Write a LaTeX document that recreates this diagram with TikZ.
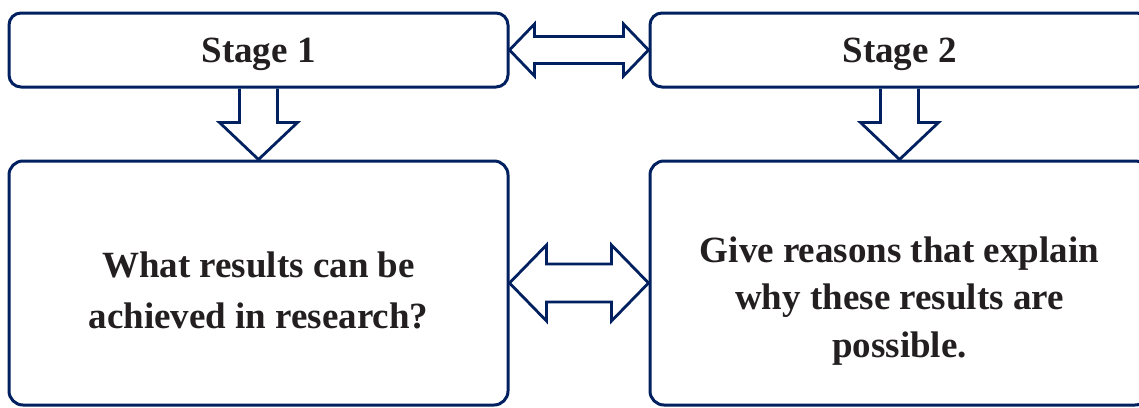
\documentclass[tikz,border=0pt]{standalone}
\usepackage{fontspec}
\setmainfont{Liberation Serif}
\usetikzlibrary{calc}

\definecolor{navy}{RGB}{0,32,96}
\definecolor{inkgray}{HTML}{231F20}

\begin{document}
\begin{tikzpicture}[x=0.5pt, y=-0.5pt,
    stagebox/.style={draw=navy, line width=1.5pt, rounded corners=6pt,
        minimum width=249.5pt, minimum height=37pt, inner sep=0pt,
        text=inkgray, text depth=0pt, font=\fontsize{18.5}{22}\selectfont\bfseries},
    bigbox/.style={draw=navy, line width=1.5pt, rounded corners=7pt,
        minimum width=249.5pt, minimum height=122pt, inner sep=0pt},
    boxtext/.style={align=center, inner sep=0pt, text=inkgray,
        font=\fontsize{18.5}{#1}\selectfont\bfseries},
    blockarrow/.style={draw=navy, line width=1.4pt, line join=miter}]

    % page size (the right column is cut at the edge)
    \useasboundingbox (0,0) rectangle (1139,407);
    \clip (0,0) rectangle (1139,407);

    % stages
    \node[stagebox] (s1) at (258.5,50) {Stage 1};
    \node[stagebox] (s2) at (899.5,50) {Stage 2};

    % lower boxes
    \node[bigbox] (b1) at (258.5,283) {};
    \node[bigbox] (b2) at (899.5,283) {};

    \node[boxtext=25.5pt] (t1) at ($(b1.center)+(0,7)$) {What results can be\\achieved in research?};
    \node[boxtext=23.75pt] (t2) at ($(b2.center)+(0,18)$) {Give reasons that explain\\why these results are\\possible.};

    % double arrow between the stages
    \draw[blockarrow] (s1.east) -- ++(25,-26) -- ++(0,12.5) -- ($(s2.west)+(-25,-13.5)$) -- ++(0,-12.5)
        -- (s2.west) -- ++(-25,26) -- ++(0,-12.5) -- ($(s1.east)+(25,13.5)$) -- ++(0,12.5) -- cycle;

    % double arrow between the lower boxes
    \draw[blockarrow] (b1.east) -- ++(37,-38) -- ++(0,19) -- ($(b2.west)+(-37,-19)$) -- ++(0,-19)
        -- (b2.west) -- ++(-37,38) -- ++(0,-19) -- ($(b1.east)+(37,19)$) -- ++(0,19) -- cycle;

    % down arrows
    \draw[blockarrow] ($(s1.south)+(-19,0)$) -- ($(b1.north)+(-19,-37)$) -- ++(-20,0) -- (b1.north)
        -- ++(39,-37) -- ++(-20,0) -- ($(s1.south)+(19,0)$);
    \draw[blockarrow] ($(s2.south)+(-19,0)$) -- ($(b2.north)+(-19,-37)$) -- ++(-20,0) -- (b2.north)
        -- ++(39,-37) -- ++(-20,0) -- ($(s2.south)+(19,0)$);

\end{tikzpicture}
\end{document}
